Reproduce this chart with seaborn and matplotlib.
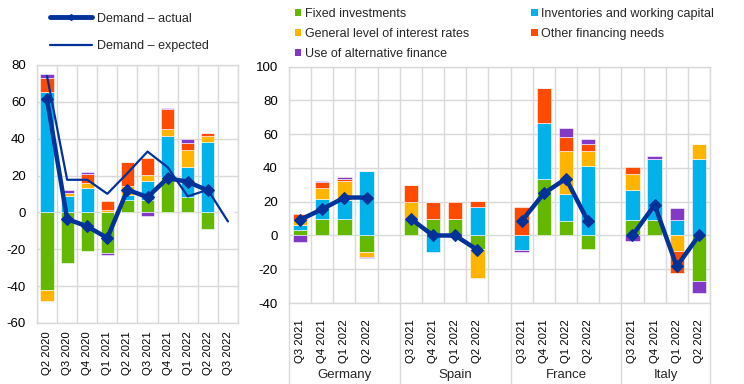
import numpy as np
import matplotlib
matplotlib.use("Agg")
import matplotlib.pyplot as plt
import matplotlib.transforms as mtransforms
import seaborn as sns
from matplotlib.lines import Line2D
from matplotlib.patches import Patch

# Left panel: euro area, Q2 2020 - Q3 2022
quarters = ["Q2 2020", "Q3 2020", "Q4 2020", "Q1 2021", "Q2 2021",
            "Q3 2021", "Q4 2021", "Q1 2022", "Q2 2022", "Q3 2022"]
ea_fixed = [-42.3, -27.7, -20.8, -22.2, 6.5, 7.0, 19.0, 8.4, -9.0, 0]
ea_inventories = [65.2, 8.7, 13.2, 0, 3.1, 10.0, 22.5, 16.5, 38.4, 0]
ea_interest = [-6.0, 2.0, 2.7, 1.2, 4.5, 3.5, 3.5, 8.7, 3.1, 0]
ea_other = [7.5, 0, 5.0, 4.8, 13.0, 9.0, 11.0, 3.9, 1.8, 0]
ea_alternative = [2.4, 1.5, 0.9, -1.1, 0, -1.8, 0.7, 2.5, 0, 0]
ea_actual = [61.4, -3.6, -7.6, -13.9, 12.3, 8.3, 18.6, 16.6, 11.9]
ea_expected = [74.0, 17.7, 17.7, 10.1, 21.3, 33.0, 24.5, 8.7, 12.3, -4.9]

# Right panel: countries, Q3 2021 - Q2 2022
countries = ["Germany", "Spain", "France", "Italy"]
country_quarters = ["Q3 2021", "Q4 2021", "Q1 2022", "Q2 2022"]
cty_fixed = [3.3, 9.7, 9.7, -9.9, 9.9, 10.0, 10.0, -8.1,
             0, 33.3, 8.3, -8.1, 9.3, 9.3, 0, -27.2]
cty_inventories = [3.0, 12.0, 11.4, 38.5, 0, -9.9, 0, 17.0,
                   -8.5, 33.2, 16.4, 41.4, 17.7, 36.1, 9.3, 45.4]
cty_interest = [3.0, 6.5, 11.4, -2.9, 10.2, 0, 0, -16.8,
                0, 0, 25.4, 8.7, 9.3, 0, -9.1, 8.8]
cty_other = [3.3, 3.4, 1.2, 0, 9.9, 10.0, 10.0, 3.7,
             16.8, 20.7, 8.1, 3.9, 4.5, 0, -13.2, 0]
cty_alternative = [-4.1, 0.4, 0.8, -0.8, 0, 0, -1.0, 0,
                   -1.2, 0, 5.3, 3.2, -3.2, 1.9, 6.9, -6.9]
cty_actual = [9.3, 15.6, 22.5, 22.5, 9.9, 0, 0, -8.5,
              8.5, 24.9, 33.7, 8.3, 0, 18.1, -18.3, 0]

factor_names = ["Fixed investments", "Inventories and working capital",
                "General level of interest rates", "Other financing needs",
                "Use of alternative finance"]

GREEN = "#65B800"
BLUE = "#00B1EA"
YELLOW = "#FFB400"
RED = "#FF4B00"
PURPLE = "#8139C6"
NAVY = "#003299"
GRID = "#D9D9D9"
colors = [GREEN, BLUE, YELLOW, RED, PURPLE]

sns.set_theme(style="white")
plt.rcParams["font.family"] = ["Liberation Sans", "DejaVu Sans"]
plt.rcParams["axes.unicode_minus"] = False


def stacked_bars(ax, x, layers, width=0.65):
    pos = np.zeros(len(x))
    neg = np.zeros(len(x))
    for vals, c in zip(layers, colors):
        vals = np.asarray(vals, dtype=float)
        bottom = np.where(vals >= 0, pos, neg)
        ax.bar(x, vals, bottom=bottom, width=width, color=c,
               edgecolor="white", linewidth=0.4, zorder=2)
        pos = pos + np.clip(vals, 0, None)
        neg = neg + np.clip(vals, None, 0)


def style_axis(ax, n):
    ax.set_xticks(np.arange(-0.5, n, 1), minor=True)
    ax.grid(which="minor", axis="x", color=GRID, lw=1)
    ax.grid(which="major", axis="y", color=GRID, lw=1)
    ax.grid(which="major", axis="x", visible=False)
    ax.set_axisbelow(True)
    ax.tick_params(which="both", length=0, colors="black")
    ax.tick_params(axis="y", labelsize=9.5)
    ax.tick_params(axis="x", labelsize=8.2)
    for sp in ax.spines.values():
        sp.set_color(GRID)
        sp.set_linewidth(1)
    ax.set_xlabel("")
    ax.set_ylabel("")


fig = plt.figure(figsize=(7.44, 3.84), dpi=100)
ax1 = fig.add_axes([0.0497, 0.1589, 0.2702, 0.6719])
ax2 = fig.add_axes([0.3884, 0.2109, 0.5659, 0.6154])

# left panel
x1 = np.arange(len(quarters))
stacked_bars(ax1, x1, [ea_fixed, ea_inventories, ea_interest, ea_other, ea_alternative])
sns.lineplot(x=x1, y=ea_expected, color=NAVY, lw=1.6, ax=ax1, zorder=3)
sns.lineplot(x=x1[:len(ea_actual)], y=ea_actual, color=NAVY, lw=3.2,
             marker="D", markersize=6.5, markeredgecolor=NAVY, ax=ax1, zorder=4)
ax1.set_xlim(-0.5, len(quarters) - 0.5)
ax1.set_ylim(-60, 80)
ax1.set_yticks(range(-60, 81, 20))
ax1.set_xticks(x1)
ax1.set_xticklabels(quarters, rotation=90)
style_axis(ax1, len(quarters))
ax1.tick_params(axis="x", pad=6)
ax1.tick_params(axis="y", pad=8)

# right panel
x2 = np.array([g * 5 + i for g in range(len(countries)) for i in range(len(country_quarters))])
stacked_bars(ax2, x2, [cty_fixed, cty_inventories, cty_interest, cty_other, cty_alternative])
for g in range(len(countries)):
    sl = slice(g * 4, g * 4 + 4)
    sns.lineplot(x=x2[sl], y=cty_actual[sl], color=NAVY, lw=3.2, marker="D",
                 markersize=6.5, markeredgecolor=NAVY, ax=ax2, zorder=4)
n2 = x2.max() + 1
ax2.set_xlim(-0.5, n2 - 0.5)
ax2.set_ylim(-40, 100)
ax2.set_yticks(range(-40, 101, 20))
ax2.set_xticks(x2)
ax2.set_xticklabels(country_quarters * len(countries), rotation=90)
style_axis(ax2, n2)
ax2.tick_params(axis="x", pad=12)
ax2.tick_params(axis="y", pad=8)

trans = mtransforms.blended_transform_factory(ax2.transData, ax2.transAxes)
for b in [-0.5, 4.5, 9.5, 14.5, n2 - 0.5]:
    ax2.plot([b, b], [0, -0.35], transform=trans, color=GRID, lw=1, clip_on=False)
for g, name in enumerate(countries):
    start = g * 5 - 0.5
    end = min(start + 5, n2 - 0.5)
    ax2.text((start + end) / 2, -0.305, name, transform=trans, ha="center",
             va="center", fontsize=9.5)

# legends
line_handles = [
    Line2D([], [], color=NAVY, lw=3.5, marker="D", markersize=3),
    Line2D([], [], color=NAVY, lw=1.6),
]
fig.legend(line_handles, ["Demand \u2013 actual", "Demand \u2013 expected"],
           loc="upper left", bbox_to_anchor=(0.067, 0.967), frameon=False,
           fontsize=9, handlelength=3.4, handletextpad=0.4, labelspacing=1.25,
           borderpad=0, borderaxespad=0)

bar_handles = [Patch(facecolor=c, edgecolor="none") for c in colors]
order = [0, 2, 4, 1, 3]
fig.legend([bar_handles[i] for i in order], [factor_names[i] for i in order],
           ncol=2, loc="upper left", bbox_to_anchor=(0.396, 0.98), frameon=False,
           fontsize=9, handlelength=0.5, handleheight=0.5, handletextpad=0.3,
           labelspacing=0.65, columnspacing=5.0, borderpad=0, borderaxespad=0)

fig.savefig("out.png", dpi=100)
